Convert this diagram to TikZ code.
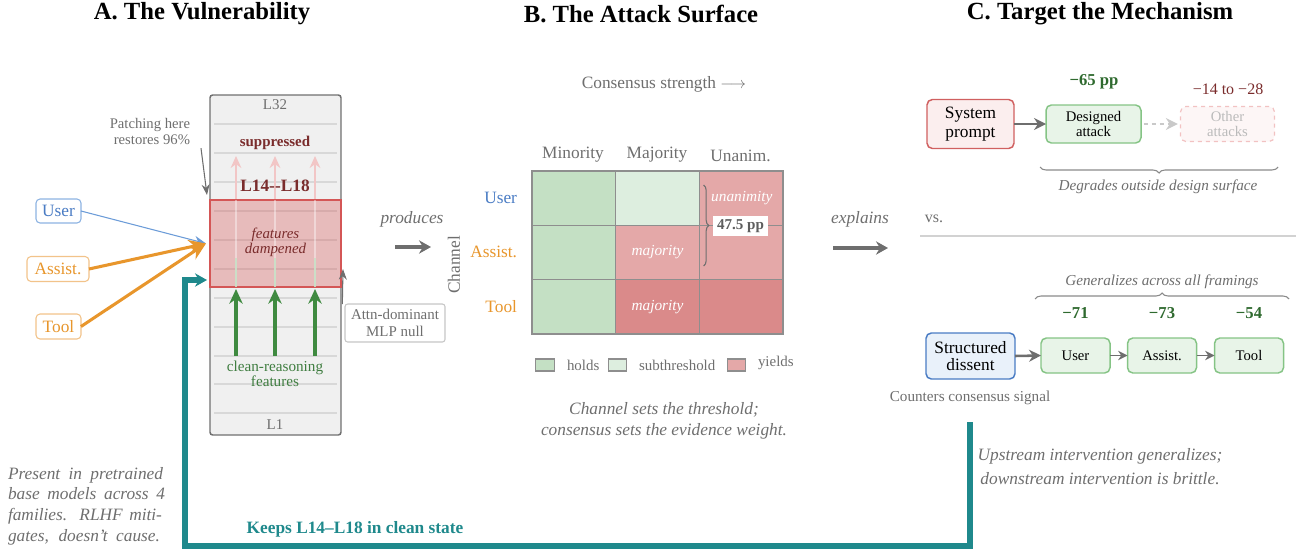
\documentclass[tikz,border=0pt]{standalone}
\usepackage{fontspec}
\setmainfont{Liberation Serif}
\usetikzlibrary{arrows.meta,decorations.pathreplacing,calc}
\definecolor{tgray}{HTML}{6E6E6E}
\definecolor{stkfill}{HTML}{F0F0F0}
\definecolor{stkdraw}{HTML}{707070}
\definecolor{layln}{HTML}{D8D8D8}
\definecolor{bandred}{HTML}{D65050}
\definecolor{banddraw}{HTML}{D45656}
\definecolor{dred}{HTML}{7A2C2C}
\definecolor{garr}{HTML}{3F8A40}
\definecolor{gtxt}{HTML}{3F7D40}
\definecolor{gval}{HTML}{2F6A2F}
\definecolor{parr}{HTML}{F2C6C6}
\definecolor{ublue}{HTML}{4A7CC4}
\definecolor{ubluel}{HTML}{8DB3E2}
\definecolor{ubluearr}{HTML}{6C9CD8}
\definecolor{aor}{HTML}{E8962C}
\definecolor{aorl}{HTML}{F2C38A}
\definecolor{teal1}{HTML}{1F898C}
\definecolor{holds}{HTML}{C4E0C4}
\definecolor{subth}{HTML}{DDEEDF}
\definecolor{yields}{HTML}{E4A8A8}
\definecolor{yieldsd}{HTML}{DA8A8A}
\definecolor{cellline}{HTML}{8E8E8E}
\definecolor{arrgray}{HTML}{6E6E6E}
\definecolor{sysred}{HTML}{D06060}
\definecolor{sysfill}{HTML}{FBEEEE}
\definecolor{grnbd}{HTML}{85C485}
\definecolor{grnfill}{HTML}{E8F4E8}
\definecolor{othbd}{HTML}{F2C2C2}
\definecolor{othfill}{HTML}{FDF6F6}
\definecolor{othtxt}{HTML}{BBBBBB}
\definecolor{sdfill}{HTML}{E9F1FA}
\definecolor{sepgray}{HTML}{D2D2D2}
\definecolor{bracegray}{HTML}{8A8A8A}
\begin{document}
\begin{tikzpicture}[x=0.75pt,y=-0.75pt,
  every node/.style={inner sep=0pt, outer sep=0pt},
  sz/.style 2 args={minimum width=#1*0.75pt, minimum height=#2*0.75pt},
  title/.style={font=\fontsize{18.5}{22}\selectfont\bfseries},
  f11/.style={font=\fontsize{11.2}{12}\selectfont},
  f12/.style={font=\fontsize{12}{14}\selectfont},
  f13/.style={font=\fontsize{13}{15}\selectfont},
  stackbox/.style={draw=stkdraw, fill=stkfill, line width=1.1pt, rounded corners=2pt},
  layerln/.style={draw=layln, line width=1.1pt},
  bandbox/.style={draw=banddraw, line width=1.1pt, fill=bandred, fill opacity=0.33},
  inbox/.style={rounded corners=3pt, line width=0.8pt, fill=white, f13},
  pinkarr/.style={draw=parr, line width=1.4pt, -{Stealth[length=9pt,width=8pt]}},
  greenarr/.style={draw=garr, line width=3pt, -{Stealth[length=11pt,width=10pt]}},
  thinarr/.style={draw=arrgray, line width=0.8pt, -{Stealth[length=8pt,width=6pt]}},
  bigarr/.style={draw=arrgray, line width=3pt, -{Stealth[length=9pt,width=10pt]}},
  midarr/.style={draw=arrgray, line width=1.9pt, -{Stealth[length=9pt,width=9pt]}},
  smallarr/.style={draw=arrgray, line width=1.2pt, -{Stealth[length=7pt,width=7pt]}},
  cell/.style={draw=cellline, line width=0.9pt, sz={83.67}{54.33}, text=white, font=\fontsize{11.5}{13}\selectfont\itshape},
  legsq/.style={draw=cellline, line width=0.9pt, sz={18.5}{12}},
  gbrace/.style={draw=bracegray, line width=0.8pt, decorate},
  gbox/.style={draw=grnbd, fill=grnfill, line width=1.1pt, rounded corners=4pt, align=center, font=\fontsize{11}{11}\selectfont},
  gval/.style={text=gval, font=\fontsize{12.5}{14}\selectfont\bfseries},
]
\useasboundingbox (0,0) rectangle (1298,550);

% ---------- titles ----------
\node[title] (tA) at (202,14) {A.\ The Vulnerability};
\node[title] (tB) at (641,14) {B.\ The Attack Surface};
\node[title] (tC) at (1100,14) {C.\ Target the Mechanism};

% ---------- Panel A ----------
\node[stackbox, sz={131}{340}] (stack) at (275.5,265) {};
\foreach \yy in {124,153,182,211,240,269,298,327,356,384,413}
  \draw[layerln] (214,\yy) -- (337,\yy);
\node[bandbox, sz={131}{87}] (band) at (275.5,243.5) {};
\foreach \xx in {236,275,315}{
  \draw[line width=1pt, white, opacity=0.4] (\xx,287) -- (\xx,200);
  \draw[line width=1pt, holds, opacity=0.8] (\xx,287) -- (\xx,258);
  \draw[pinkarr] (\xx,199) -- (\xx,156);
  \draw[greenarr] (\xx,356) -- (\xx,289);
}
\node[f11, text=tgray] (l32) at (275,105) {L32};
\node[f11, text=dred, font=\fontsize{11.2}{12}\selectfont\bfseries] (supp) at (275,143) {suppressed};
\node[text=dred, font=\fontsize{13}{15}\selectfont\bfseries] (lrange) at (275,186) {L14-{}-L18};
\node[text=dred, align=center, font=\fontsize{11.2}{11.2}\selectfont\itshape] (damp) at (275.5,242.5) {features\\dampened};
\node[text=gtxt, align=center, font=\fontsize{11.4}{10}\selectfont] (clean) at (275,374) {clean-reasoning\\features};
\node[f11, text=tgray] (l1) at (275,425) {L1};

\node[text=tgray, align=right, font=\fontsize{11}{12}\selectfont, anchor=east] (patch) at (190,132) {Patching here\\restores 96\%};
\draw[thinarr] ([shift={(11,3)}]patch.south east) -- ([shift={(-3,-5)}]band.north west);

\node[draw=layln!80!gray, fill=white, rounded corners=2pt, line width=0.8pt, sz={100}{38}, text=tgray, align=center, font=\fontsize{11.2}{12.5}\selectfont] (attn) at (395,323) {Attn-dominant\\MLP null};
\draw[thinarr] ([xshift=-2]attn.north west) -- ([shift={(2,-18)}]band.south east);

\node[inbox, draw=ubluel, text=ublue, sz={45}{24}] (inU) at (58.5,211) {User};
\node[inbox, draw=aorl, text=aor, sz={62}{25}] (inA) at (58,269) {Assist.};
\node[inbox, draw=aorl, text=aor, sz={45}{25}] (inT) at (58.5,326.5) {Tool};
\draw[draw=ubluearr, line width=0.8pt, -{Stealth[length=9pt,width=7pt]}] (inU.east) -- ([xshift=-3]band.west);
\draw[draw=aor, line width=2.3pt, -{Stealth[length=13pt,width=11pt]}] (inA.east) -- ([xshift=-3]band.west);
\draw[draw=aor, line width=2.3pt, -{Stealth[length=13pt,width=11pt]}] (inT.east) -- ([xshift=-3]band.west);

% feedback loop
\coordinate (tealtop) at (970,422);
\draw[draw=teal1, line width=3.8pt, -{Stealth[length=9pt,width=10pt]}] (tealtop) -- (970,546) -| (185,280) -- ([shift={(-3,-7)}]band.south west);
\node[text=teal1, font=\fontsize{13}{15}\selectfont\bfseries] (keeps) at (355,529) {Keeps L14–L18 in clean state};

\node[anchor=north west, text=tgray, align=left, font=\fontsize{13}{15.5}\selectfont\itshape] (present) at (8,467) {%
\makebox[116.25pt][s]{Present in pretrained}\\
\makebox[117.75pt][s]{base models across 4}\\
\makebox[115.5pt][s]{families. RLHF miti-}\\
\makebox[114pt][s]{gates, doesn’t cause.}};

% ---------- between A and B ----------
\node[text=tgray, font=\fontsize{13}{15}\selectfont\itshape] (prod) at (412,219) {produces};
\coordinate (pr1) at (395,247);
\coordinate (pr2) at (431,247);
\draw[bigarr] (pr1) -- (pr2);

% ---------- Panel B ----------
\node[f13, text=tgray] (cons) at (664,84) {Consensus strength $\longrightarrow$};
\node[f13, text=tgray, anchor=base] (hMin) at (573,158) {Minority};
\node[f13, text=tgray, anchor=base] (hMaj) at (657,158) {Majority};
\node[f13, text=tgray, anchor=base] (hUna) at (740.5,161) {Unanim.};

\node[cell, fill=holds] (c11) at (573.83,198.17) {};
\node[cell, fill=subth] (c12) at (657.5,198.17) {};
\node[cell, fill=yields] (c13) at (741.17,198.17) {\hspace*{1pt}unanimity};
\node[cell, fill=holds] (c21) at (573.83,252.5) {};
\node[cell, fill=yields] (c22) at (657.5,252.5) {majority};
\node[cell, fill=yields] (c23) at (741.17,252.5) {};
\node[cell, fill=holds] (c31) at (573.83,306.83) {};
\node[cell, fill=yieldsd] (c32) at (657.5,306.83) {majority};
\node[cell, fill=yieldsd] (c33) at (741.17,306.83) {};

\draw[gbrace, draw=tgray, decoration={brace, amplitude=4pt}] (703.5,185) -- (703.5,266);
\node[fill=white, inner xsep=3pt, inner ysep=2.5pt, text=tgray!85!black, font=\fontsize{11.3}{12}\selectfont\bfseries] (pp) at (740.5,226) {47.5 pp};

\node[f13, text=ublue, anchor=east] (rU) at (517,198) {User};
\node[f13, text=aor, anchor=east] (rA) at (517,252) {Assist.};
\node[f13, text=aor, anchor=east] (rT) at (517,306.5) {Tool};
\node[f13, text=tgray, rotate=90] (chan) at (454,265) {Channel};

\node[legsq, fill=holds] (lg1) at (545,365) {};
\node[f11, text=tgray, anchor=west] (lt1) at (567,365) {holds};
\node[legsq, fill=subth] (lg2) at (617.5,365) {};
\node[f11, text=tgray, anchor=west] (lt2) at (639,365) {subthreshold};
\node[legsq, fill=yields] (lg3) at (736.5,365) {};
\node[f11, text=tgray, anchor=west] (lt3) at (758,363) {yields};

\node[text=tgray, align=center, font=\fontsize{13}{15.75}\selectfont\itshape] (capB) at (664,420.5) {Channel sets the threshold;\\consensus sets the evidence weight.};

% ---------- between B and C ----------
\node[text=tgray, font=\fontsize{13}{15}\selectfont\itshape] (expl) at (860,219) {explains};
\coordinate (ex1) at (833,248);
\coordinate (ex2) at (888,248);
\draw[bigarr] (ex1) -- (ex2);

% ---------- Panel C ----------
\node[draw=sysred, fill=sysfill, line width=1.1pt, rounded corners=4pt, sz={87}{49}, align=center, font=\fontsize{13}{13.7}\selectfont] (sys) at (970.5,124) {System\\prompt};
\node[gbox, sz={95}{38}] (des) at (1093.5,124) {Designed\\attack};
\node[draw=othbd, fill=othfill, dashed, line width=0.9pt, rounded corners=4pt, sz={94}{35}, align=center, text=othtxt, font=\fontsize{11}{11}\selectfont] (oth) at (1227.5,124) {Other\\attacks};
\draw[midarr] (sys.east) -- (des.west);
\draw[draw=othtxt!80!white, line width=1.1pt, dashed, -{Stealth[length=9pt,width=9pt]}] ([xshift=2]des.east) -- ([xshift=-2]oth.west);
\node[gval] (v65) at (1094,82) {−65 pp};
\node[text=dred, font=\fontsize{12}{14}\selectfont] (v1428) at (1228,89) {−14 to −28};
\draw[gbrace, decoration={brace, amplitude=4.5pt}] (1278,167) -- (1040,167);
\node[text=tgray, font=\fontsize{11.4}{13}\selectfont\itshape] (degr) at (1158,187) {Degrades outside design surface};

\node[text=tgray, font=\fontsize{12}{14}\selectfont] (vs) at (934,219) {vs.};
\coordinate (sepL) at (920,236);
\coordinate (sepR) at (1296,236);
\draw[draw=sepgray, line width=0.8pt] (sepL) -- (sepR);

\node[text=tgray, font=\fontsize{11.4}{13}\selectfont\itshape] (gen) at (1162,282) {Generalizes across all framings};
\draw[gbrace, decoration={brace, amplitude=4.5pt}] (1035,299) -- (1289,299);
\node[gval] (v71) at (1075.5,313) {−71};
\node[gval] (v73) at (1162,313) {−73};
\node[gval] (v54) at (1249,313) {−54};

\node[draw=ublue, fill=sdfill, line width=1.1pt, rounded corners=4pt, sz={89}{46}, align=center, font=\fontsize{13}{13.3}\selectfont] (sd) at (970.5,356) {Structured\\dissent};
\node[gbox, sz={69}{35}] (gU) at (1075.5,355.5) {User};
\node[gbox, sz={69}{35}] (gA) at (1162,355.5) {Assist.};
\node[gbox, sz={69}{35}] (gT) at (1249,355.5) {Tool};
\draw[midarr] (sd.east) -- (gU.west);
\draw[smallarr] (gU.east) -- (gA.west);
\draw[smallarr] (gA.east) -- (gT.west);
\node[text=tgray, font=\fontsize{11.4}{13}\selectfont] (counter) at (970,398) {Counters consensus signal};

\node[text=tgray, align=center, font=\fontsize{13}{18}\selectfont\itshape] (upstr) at (1100,467) {Upstream intervention generalizes;\\downstream intervention is brittle.};
\end{tikzpicture}
\end{document}
